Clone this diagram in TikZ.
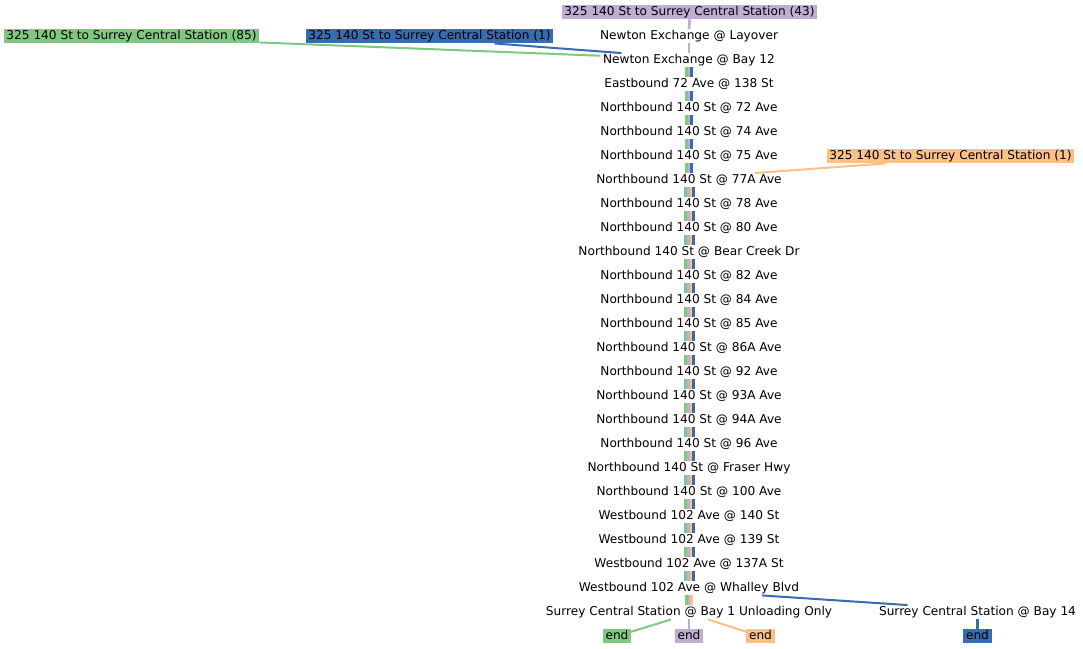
\documentclass[tikz,border=0pt]{standalone}
\usepackage{fontspec}
\setmainfont{DejaVu Sans}
\definecolor{cg}{HTML}{7FC97F}
\definecolor{cp}{HTML}{BEAED4}
\definecolor{co}{HTML}{FDC086}
\definecolor{cb}{HTML}{386CB0}
\begin{document}
\begin{tikzpicture}[x=1pt,y=-1pt,
  stop/.style={font=\fontsize{12.15}{14}\selectfont, inner xsep=2.6pt, inner ysep=1pt,
    text height=9pt, text depth=3pt},
  seg/.style={line width=2.75pt},
  link/.style={line width=2pt}]
\useasboundingbox (0,0) rectangle (1083,648);
% route labels
\node[stop, fill=cp] (s0) at (689.5,12.25) {325 140 St to Surrey Central Station (43)};
\node[stop, fill=cg] (g85) at (131.5,36.25) {325 140 St to Surrey Central Station (85)};
\node[stop, fill=cb] (b1) at (429.5,36.25) {325 140 St to Surrey Central Station (1)};
\node[stop, fill=co] (o1) at (950.5,156.25) {325 140 St to Surrey Central Station (1)};
% stops
\foreach \i/\t in {1/Newton Exchange @ Layover, 2/Newton Exchange @ Bay 12,
  3/Eastbound 72 Ave @ 138 St, 4/Northbound 140 St @ 72 Ave,
  5/Northbound 140 St @ 74 Ave, 6/Northbound 140 St @ 75 Ave,
  7/Northbound 140 St @ 77A Ave, 8/Northbound 140 St @ 78 Ave,
  9/Northbound 140 St @ 80 Ave, 10/Northbound 140 St @ Bear Creek Dr,
  11/Northbound 140 St @ 82 Ave, 12/Northbound 140 St @ 84 Ave,
  13/Northbound 140 St @ 85 Ave, 14/Northbound 140 St @ 86A Ave,
  15/Northbound 140 St @ 92 Ave, 16/Northbound 140 St @ 93A Ave,
  17/Northbound 140 St @ 94A Ave, 18/Northbound 140 St @ 96 Ave,
  19/Northbound 140 St @ Fraser Hwy, 20/Northbound 140 St @ 100 Ave,
  21/Westbound 102 Ave @ 140 St, 22/Westbound 102 Ave @ 139 St,
  23/Westbound 102 Ave @ 137A St, 24/Westbound 102 Ave @ Whalley Blvd,
  25/Surrey Central Station @ Bay 1 Unloading Only}
  {\node[stop] (s\i) at (689,{12.25+24*\i}) {\t};}
\node[stop] (b14) at (977.5,612.25) {Surrey Central Station @ Bay 14};
% ends
\node[stop, fill=cg] (eg) at (617,636.25) {end};
\node[stop, fill=cp] (ep) at (689,636.25) {end};
\node[stop, fill=co] (eo) at (760.5,636.25) {end};
\node[stop, fill=cb] (eb) at (977.5,636.25) {end};
% purple lead-in
\draw[seg, cp] (s0.south) -- (s1.north);
\draw[seg, cp] (s1.south) -- (s2.north);
% three routes
\foreach \i [evaluate=\i as \j using int(\i+1)] in {2,...,6} {
  \draw[seg, cg] ([xshift=-2.75pt]s\i.south) -- ([xshift=-2.75pt]s\j.north);
  \draw[seg, cp] (s\i.south) -- (s\j.north);
  \draw[seg, cb] ([xshift=2.75pt]s\i.south) -- ([xshift=2.75pt]s\j.north);
}
% four routes
\foreach \i [evaluate=\i as \j using int(\i+1)] in {7,...,23} {
  \draw[seg, cg] ([xshift=-3.5pt]s\i.south) -- ([xshift=-3.5pt]s\j.north);
  \draw[seg, cp] ([xshift=-0.75pt]s\i.south) -- ([xshift=-0.75pt]s\j.north);
  \draw[seg, co] ([xshift=2pt]s\i.south) -- ([xshift=2pt]s\j.north);
  \draw[seg, cb] ([xshift=4.75pt]s\i.south) -- ([xshift=4.75pt]s\j.north);
}
% whalley to bay 1
\draw[seg, cg] ([xshift=-2.75pt]s24.south) -- ([xshift=-2.75pt]s25.north);
\draw[seg, cp] (s24.south) -- (s25.north);
\draw[seg, co] ([xshift=2.75pt]s24.south) -- ([xshift=2.75pt]s25.north);
% route joins
\draw[link, cg] ([yshift=1pt]g85.south east) -- ([yshift=4.5pt]s2.west);
\draw[link, cb] ([xshift=65pt]b1.south) -- ([xshift=21pt]s2.north west);
\draw[link, co] ([xshift=-65pt]o1.south) -- ([xshift=66pt]s7.north);
\draw[link, cb] ([xshift=73pt]s24.south) -- ([xshift=-70pt]b14.north);
% ends
\draw[link, cg] ([xshift=-18pt]s25.south) -- ([xshift=-1pt,yshift=-3pt]eg.north east);
\draw[seg, cp] (s25.south) -- (ep.north);
\draw[link, co] ([xshift=19pt]s25.south) -- ([xshift=1pt,yshift=-3pt]eo.north west);
\draw[seg, cb] (b14.south) -- (eb.north);
\end{tikzpicture}
\end{document}
